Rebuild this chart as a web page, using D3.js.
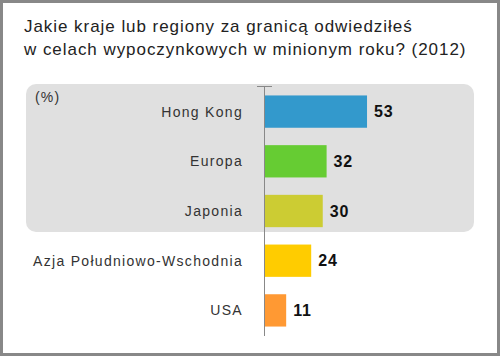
<!DOCTYPE html>
<html><head><meta charset="utf-8">
<script src="https://cdn.jsdelivr.net/npm/d3@7"></script>
<style>body{margin:0;background:#fff}svg{display:block}</style>
</head><body>
<script>
const categories = ["Hong Kong","Europa","Japonia","Azja Południowo-Wschodnia","USA"];
const values = [53,32,30,24,11];
const colors = ["#3399cc","#66cc33","#cccc33","#ffcc00","#ff9933"];
const titleLines = ["Jakie kraje lub regiony za granicą odwiedziłeś","w celach wypoczynkowych w minionym roku? (2012)"];
const unitLabel = "(%)";

const W=500,H=356;
const FONT="Liberation Sans, Arial, sans-serif";
const svg=d3.select("body").append("svg").attr("width",W).attr("height",H);
svg.append("rect").attr("x",1.5).attr("y",1.5).attr("width",W-3).attr("height",H-3)
  .attr("fill","#fff").attr("stroke","#888").attr("stroke-width",3);

svg.selectAll("text.title").data(titleLines).enter().append("text")
  .attr("x",24).attr("y",(d,i)=>32+i*23)
  .attr("font-family",FONT).attr("font-size",17).attr("letter-spacing",0.95)
  .attr("fill","#222").text(d=>d);

// highlight box
svg.append("rect").attr("x",26).attr("y",84).attr("width",448).attr("height",148)
  .attr("rx",10).attr("fill","#e0e0e0");

const x=d3.scaleLinear().domain([0,100]).range([265,457.5]);
const y=d3.scaleBand().domain(categories).range([87,335]).paddingInner(0.35).paddingOuter(0.17);

svg.append("text").attr("x",35).attr("y",102).attr("font-family",FONT)
  .attr("font-size",14).attr("letter-spacing",1.2).attr("fill","#333").text(unitLabel);

svg.selectAll("rect.bar").data(values).enter().append("rect")
  .attr("x",x(0)).attr("y",(d,i)=>y(categories[i])).attr("width",d=>x(d)-x(0))
  .attr("height",y.bandwidth()).attr("fill",(d,i)=>colors[i]);

// axis
svg.append("line").attr("x1",264.5).attr("x2",264.5).attr("y1",86).attr("y2",336).attr("stroke","#888").attr("stroke-width",1);
svg.append("line").attr("x1",257).attr("x2",272).attr("y1",86.5).attr("y2",86.5).attr("stroke","#888").attr("stroke-width",1);

svg.selectAll("text.cat").data(categories).enter().append("text")
  .attr("x",243).attr("y",d=>y(d)+y.bandwidth()/2).attr("dy","0.36em").attr("text-anchor","end")
  .attr("font-family",FONT).attr("font-size",14).attr("letter-spacing",1.3).attr("fill","#333").text(d=>d);

svg.selectAll("text.val").data(values).enter().append("text")
  .attr("x",d=>x(d)+7).attr("y",(d,i)=>y(categories[i])+y.bandwidth()/2).attr("dy","0.36em")
  .attr("font-family",FONT).attr("font-size",16).attr("font-weight","bold").attr("letter-spacing",0.8)
  .attr("fill","#111").text(d=>d);
</script>
</body></html>
